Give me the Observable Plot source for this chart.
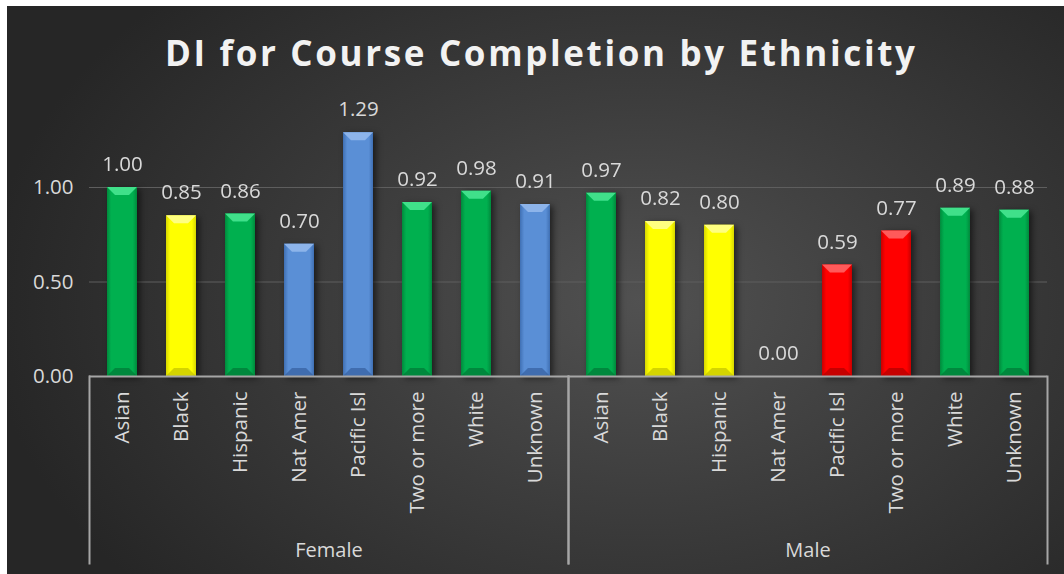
<!DOCTYPE html>
<html>
<head>
<meta charset="utf-8">
<script src="https://cdn.jsdelivr.net/npm/d3@7"></script>
<script src="https://cdn.jsdelivr.net/npm/@observablehq/plot@0.6"></script>
<style>
  html, body { margin: 0; padding: 0; background: #ffffff; }
  #chart { position: absolute; left: 7px; top: 6px; width: 1057px; height: 568px; overflow: hidden; }
</style>
</head>
<body>
<div id="chart"></div>
<script>
const chartTitle = "DI for Course Completion by Ethnicity";
const genders = ["Female", "Male"];
const ethnicities = ["Asian", "Black", "Hispanic", "Nat Amer", "Pacific Isl", "Two or more", "White", "Unknown"];
const femaleValues = [1.00, 0.85, 0.86, 0.70, 1.29, 0.92, 0.98, 0.91];
const maleValues   = [0.97, 0.82, 0.80, 0.00, 0.59, 0.77, 0.89, 0.88];
// rating codes: G = green, Y = yellow, B = blue, R = red
const femaleRating = ["G", "Y", "G", "B", "B", "G", "G", "B"];
const maleRating   = ["G", "Y", "Y", "G", "R", "R", "G", "G"];
const yTicks = [0, 0.5, 1];

const data = [];
ethnicities.forEach((e, i) => data.push({gender: "Female", eth: e, value: femaleValues[i], rating: femaleRating[i]}));
ethnicities.forEach((e, i) => data.push({gender: "Male", eth: e, value: maleValues[i], rating: maleRating[i]}));

const palette = {
  G: {base: "#00b050", dark: "#008a3c", light: "#3fe08a", deep: "#006e30"},
  Y: {base: "#ffff00", dark: "#d6d600", light: "#ffff80", deep: "#b8b800"},
  B: {base: "#5a8fd6", dark: "#3f6fb3", light: "#8db4ea", deep: "#2f5794"},
  R: {base: "#ff0000", dark: "#c80000", light: "#ff5a5a", deep: "#a00000"}
};
const ratingDomain = ["G", "Y", "B", "R"];

const textColor = "#d9d9d9";
const font = "'Open Sans', 'Noto Sans', sans-serif";

const plot = Plot.plot({
  width: 1057,
  height: 568,
  marginLeft: 82,
  marginRight: 17,
  marginTop: 105.4,
  marginBottom: 198,
  style: {
    fontFamily: font,
    color: textColor,
    background: "radial-gradient(ellipse 62% 78% at 60% 52%, #515151 0%, #3d3d3d 45%, #262626 100%)",
    overflow: "visible"
  },
  fx: {domain: genders, padding: 0, label: null},
  x: {domain: ethnicities, paddingInner: 0.5, paddingOuter: 0.25, label: null},
  y: {domain: [0, 1.4], label: null},
  color: {type: "ordinal", domain: ratingDomain, range: ratingDomain.map(k => palette[k].base)},
  marks: [
    Plot.ruleY([0.5, 1], {stroke: "#5e5e5e", strokeWidth: 1}),
    Plot.barY(data, {fx: "gender", x: "eth", y: "value", fill: "rating"}),
    Plot.ruleY([0], {stroke: "#a6a6a6", strokeWidth: 2}),
    Plot.axisY({ticks: yTicks, tickFormat: d => d.toFixed(2), tickSize: 0, tickPadding: 16, fontSize: 20.5, label: null}),
    Plot.axisX({tickRotate: -90, tickSize: 0, tickPadding: 15, fontSize: 20.5, label: null}),
    Plot.axisFx({anchor: "bottom", tickSize: 0, tickPadding: 166, fontSize: 20, label: null}),
    Plot.text(data, {fx: "gender", x: "eth", y: "value", text: d => d.value.toFixed(2), dy: -23, fontSize: 20.5, fill: textColor}),
    Plot.frame({anchor: "left", insetTop: 264.6, insetBottom: -187, stroke: "#a6a6a6", strokeWidth: 2}),
    Plot.frame({anchor: "right", insetTop: 264.6, insetBottom: -187, stroke: "#a6a6a6", strokeWidth: 2})
  ]
});

document.getElementById("chart").appendChild(plot);

// Styling: bevelled bar look and title
const svg = d3.select(plot);
const defs = svg.insert("defs", ":first-child");
const filt = defs.append("filter").attr("id", "barShadow").attr("x", "-30%").attr("y", "-10%").attr("width", "160%").attr("height", "130%");
filt.append("feDropShadow").attr("dx", 3).attr("dy", 2).attr("stdDeviation", 3).attr("flood-color", "#000").attr("flood-opacity", 0.55);
const baseToKey = {};
for (const k of ratingDomain) {
  baseToKey[palette[k].base.toLowerCase()] = k;
  const g = defs.append("linearGradient").attr("id", "grad-" + k).attr("x1", 0).attr("x2", 1).attr("y1", 0).attr("y2", 0);
  g.append("stop").attr("offset", "0%").attr("stop-color", palette[k].dark);
  g.append("stop").attr("offset", "14%").attr("stop-color", palette[k].base);
  g.append("stop").attr("offset", "86%").attr("stop-color", palette[k].base);
  g.append("stop").attr("offset", "100%").attr("stop-color", palette[k].dark);
}
svg.selectAll('g[aria-label="bar"]').attr("filter", "url(#barShadow)");
svg.selectAll('g[aria-label="bar"] rect').each(function() {
  const r = d3.select(this);
  const c = d3.color(r.attr("fill") || "");
  const key = c ? baseToKey[c.formatHex().toLowerCase()] : undefined;
  if (!key) return;
  r.attr("fill", `url(#grad-${key})`);
  const x = +r.attr("x"), y = +r.attr("y"), w = +r.attr("width"), h = +r.attr("height");
  if (!(h > 2)) return;
  const b = Math.min(8, h / 2, w / 2);
  const parent = d3.select(this.parentNode);
  parent.append("polygon")
    .attr("points", `${x},${y} ${x + w},${y} ${x + w - b},${y + b} ${x + b},${y + b}`)
    .attr("fill", palette[key].light);
  parent.append("polygon")
    .attr("points", `${x},${y + h} ${x + w},${y + h} ${x + w - b},${y + h - b} ${x + b},${y + h - b}`)
    .attr("fill", palette[key].deep).attr("opacity", 0.6);
});

svg.append("text")
  .attr("x", 533)
  .attr("y", 60)
  .attr("text-anchor", "middle")
  .attr("font-family", font)
  .attr("font-weight", "bold")
  .attr("font-size", 35)
  .attr("fill", "#f2f2f2")
  .attr("textLength", 750)
  .attr("lengthAdjust", "spacing")
  .text(chartTitle);
</script>
</body>
</html>
